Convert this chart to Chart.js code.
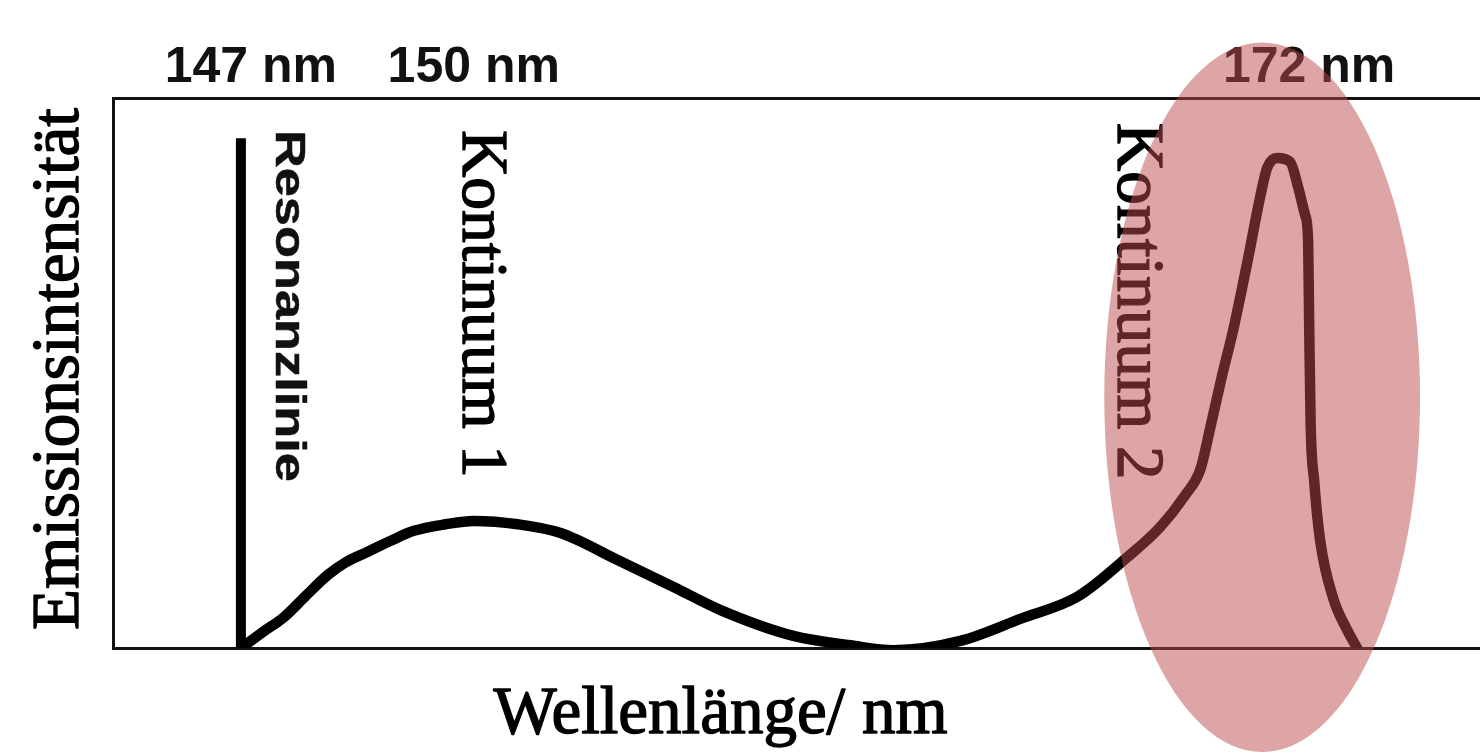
<!DOCTYPE html>
<html>
<head>
<meta charset="utf-8">
<script src="https://cdn.jsdelivr.net/npm/chart.js@4/dist/chart.umd.min.js"></script>
<style>
  html, body { margin: 0; padding: 0; background: #ffffff; overflow: hidden; }
  #c { display: block; }
</style>
</head>
<body>
<canvas id="c" width="1480" height="752"></canvas>
<script>
// ---- data (positions along the wavelength axis are in arbitrary, non-linear units) ----
const positions = [240, 262, 283, 305, 327, 345, 367, 390, 413, 445, 473, 517, 560, 617, 673, 720, 793, 850, 893, 960, 1020, 1077, 1127, 1160, 1185, 1200, 1210, 1222, 1233, 1247, 1260, 1267, 1277, 1290, 1298, 1305, 1308, 1309, 1310.5, 1314, 1320, 1333, 1347, 1357];
const intensity = [0, 2.9, 5.6, 9.5, 13.3, 15.6, 17.5, 19.5, 21.3, 22.5, 23.1, 22.5, 20.9, 16.0, 11.1, 6.9, 2.2, 0.5, -0.4, 1.3, 5.3, 9.3, 16.5, 22.0, 27.8, 32.4, 40.0, 49.6, 57.8, 70.0, 82.0, 87.3, 89.1, 88.4, 83.8, 78.7, 74.0, 59.5, 40.9, 30.5, 19.6, 9.1, 3.3, 0];
const resonancePositions = [240, 240];
const resonanceIntensity = [0, 92.7];
const topTickPositions = [250, 473, 1309];
const topTickLabels = ['147 nm', '150 nm', '172 nm'];
const xAxisTitle = 'Wellenlänge/ nm';
const yAxisTitle = 'Emissionsintensität';
const annotationTexts = ['Resonanzlinie', 'Kontinuum 1', 'Kontinuum 2'];
const annotationPositions = [275, 462, 1118];
const annotationStarts = [94.2, 94.2, 95.5];
const highlightCenter = [1262, 45.6];
const highlightRadii = [158, 64.5];

// ---- styles ----
const annotationStyles = [
  { font: 'bold 42px "Liberation Sans", Arial, sans-serif', length: 352, color: '#111111', stroke: 0.6 },
  { font: '66px "Liberation Serif", "Times New Roman", serif', length: 348, color: '#000000', stroke: 1.4 },
  { font: '67px "Liberation Serif", "Times New Roman", serif', length: 357, color: '#000000', stroke: 1.4 }
];
const xTitleStyle = { font: '67px "Liberation Serif", "Times New Roman", serif', width: 454, offsetBelow: 85, color: '#000000', stroke: 1.4 };
const yTitleStyle = { font: '67px "Liberation Serif", "Times New Roman", serif', length: 522, offsetLeft: 35, shiftUp: 4, color: '#000000', stroke: 1.4 };

const curveData = positions.map((x, i) => ({ x: x, y: intensity[i] }));
const resonanceData = resonancePositions.map((x, i) => ({ x: x, y: resonanceIntensity[i] }));

function drawFitted(ctx, text, font, color, stroke, px, py, rot, targetLen, align) {
  ctx.save();
  ctx.font = font;
  ctx.fillStyle = color;
  ctx.strokeStyle = color;
  ctx.lineWidth = stroke;
  ctx.lineJoin = 'round';
  ctx.textAlign = 'left';
  ctx.textBaseline = 'alphabetic';
  const w = ctx.measureText(text).width;
  ctx.translate(px, py);
  ctx.rotate(rot);
  const s = targetLen / w;
  ctx.scale(s, 1);
  const x0 = align === 'center' ? -w / 2 : 0;
  ctx.fillText(text, x0, 0);
  if (stroke > 0) { ctx.lineWidth = stroke / s; ctx.strokeText(text, x0, 0); }
  ctx.restore();
}

const overlayPlugin = {
  id: 'overlay',
  afterDatasetsDraw(chart) {
    const ctx = chart.ctx;
    const xs = chart.scales.x, ys = chart.scales.y;
    const area = chart.chartArea;
    annotationTexts.forEach((t, i) => {
      const st = annotationStyles[i];
      drawFitted(ctx, t, st.font, st.color, st.stroke,
        xs.getPixelForValue(annotationPositions[i]), ys.getPixelForValue(annotationStarts[i]),
        Math.PI / 2, st.length, 'left');
    });
    // x-axis title
    drawFitted(ctx, xAxisTitle, xTitleStyle.font, xTitleStyle.color, xTitleStyle.stroke,
      xs.getPixelForValue(720), area.bottom + xTitleStyle.offsetBelow, 0, xTitleStyle.width, 'center');
    // y-axis title
    drawFitted(ctx, yAxisTitle, yTitleStyle.font, yTitleStyle.color, yTitleStyle.stroke,
      area.left - yTitleStyle.offsetLeft, (area.top + area.bottom) / 2 - yTitleStyle.shiftUp,
      -Math.PI / 2, yTitleStyle.length, 'center');
  },
  afterDraw(chart) {
    const ctx = chart.ctx;
    const xs = chart.scales.x, ys = chart.scales.y;
    const cx = xs.getPixelForValue(highlightCenter[0]);
    const cy = ys.getPixelForValue(highlightCenter[1]);
    const rx = Math.abs(xs.getPixelForValue(highlightCenter[0] + highlightRadii[0]) - cx);
    const ry = Math.abs(ys.getPixelForValue(highlightCenter[1] + highlightRadii[1]) - cy);
    ctx.save();
    ctx.fillStyle = 'rgba(188, 76, 76, 0.5)';
    ctx.beginPath();
    ctx.ellipse(cx, cy, rx, ry, 0, 0, Math.PI * 2);
    ctx.fill();
    ctx.restore();
  }
};

new Chart(document.getElementById('c'), {
  type: 'line',
  data: {
    datasets: [
      {
        label: 'Emission',
        data: curveData,
        borderColor: '#000000',
        borderWidth: 10.5,
        pointRadius: 0,
        cubicInterpolationMode: 'monotone',
        borderJoinStyle: 'round',
        borderCapStyle: 'round',
        fill: false
      },
      {
        label: 'Resonanzlinie',
        data: resonanceData,
        borderColor: '#000000',
        borderWidth: 10,
        pointRadius: 0,
        tension: 0,
        borderCapStyle: 'butt',
        fill: false
      }
    ]
  },
  options: {
    responsive: false,
    animation: false,
    devicePixelRatio: 1,
    layout: { padding: { left: 113, top: 38, right: 0, bottom: 104 } },
    plugins: { legend: { display: false }, tooltip: { enabled: false }, title: { display: false } },
    scales: {
      x: {
        type: 'linear',
        position: 'bottom',
        min: 112,
        max: 1480,
        grid: { display: false, drawTicks: false },
        border: { display: true, color: '#111111', width: 3 },
        ticks: { display: false }
      },
      x2: {
        type: 'linear',
        position: 'top',
        min: 112,
        max: 1480,
        grid: { display: false, drawTicks: false },
        border: { display: true, color: '#111111', width: 3 },
        afterBuildTicks: (axis) => { axis.ticks = topTickPositions.map(v => ({ value: v })); },
        ticks: {
          display: true,
          autoSkip: false,
          maxRotation: 0,
          padding: 5,
          color: '#111111',
          font: { family: '"Liberation Sans", Arial, sans-serif', size: 50, weight: 'bold', lineHeight: 1 },
          callback: (value, index) => topTickLabels[index]
        }
      },
      y: {
        type: 'linear',
        min: 0,
        max: 100,
        grid: { display: false, drawTicks: false },
        border: { display: true, color: '#111111', width: 3 },
        ticks: { display: false },
        title: { display: false, text: yAxisTitle }
      }
    }
  },
  plugins: [overlayPlugin]
});
</script>
</body>
</html>
